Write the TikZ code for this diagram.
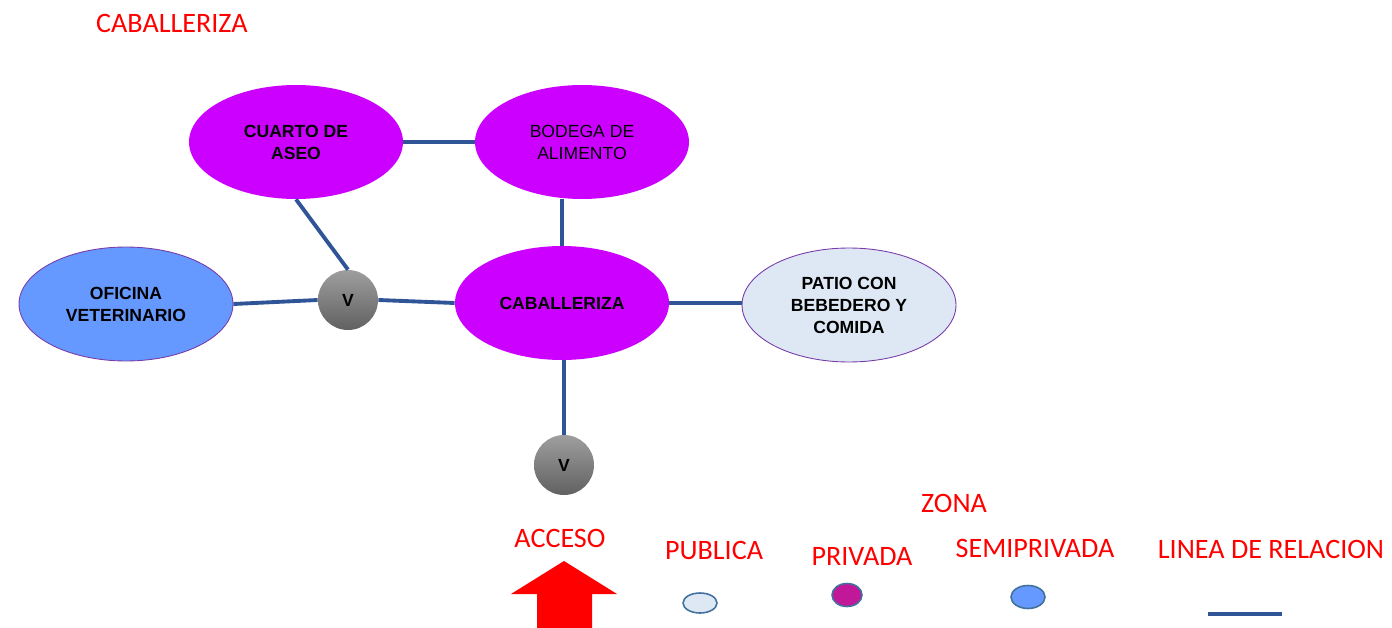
\documentclass[tikz,border=0pt]{standalone}
\usepackage{fontspec}
\setmainfont{Liberation Sans}
\newfontfamily\carlito{Carlito}
\usepackage{xcolor}
\definecolor{roompurple}{RGB}{204, 0, 255}
\definecolor{semiblue}{RGB}{102, 153, 255}
\definecolor{publight}{RGB}{222, 232, 245}
\definecolor{rimpurple}{RGB}{120, 60, 170}
\definecolor{relblue}{RGB}{47, 85, 151}
\definecolor{legendrim}{RGB}{65, 113, 156}
\definecolor{privmag}{RGB}{192, 24, 152}
\definecolor{zonered}{RGB}{255, 0, 0}
\usetikzlibrary{shapes.geometric, positioning}

\begin{document}
\begin{tikzpicture}[x=0.02cm, y=-0.02cm,
  room/.style={ellipse, minimum width=4.28cm, minimum height=2.28cm, inner sep=0pt,
    align=center, font=\fontsize{10}{12.5}\selectfont\bfseries},
  valve/.style={circle, minimum size=1.2cm, inner sep=0pt, top color=black!38,
    bottom color=black!62, font=\fontsize{10}{12}\selectfont\bfseries},
  relation/.style={draw=relblue, line width=2.2pt},
  redlabel/.style={text=zonered, font=\carlito\fontsize{16}{19}\selectfont},
  swatch/.style={ellipse, draw=legendrim, line width=0.9pt, inner sep=0pt}
]
  \useasboundingbox (0,0) rectangle (1392,628);

  % TITLE
  \node[redlabel] (title) at (172, 23) {CABALLERIZA};

  % ROOMS
  \node[room, fill=roompurple] (cuarto) at (296, 142) {CUARTO DE\\ASEO};
  \node[room, fill=roompurple, font=\fontsize{10}{12.5}\selectfont] (bodega) at (582, 142) {BODEGA DE\\ALIMENTO};
  \node[room, fill=semiblue, draw=rimpurple, line width=0.5pt] (oficina) at (126, 304) {OFICINA\\VETERINARIO};
  \node[room, fill=roompurple] (caball) at (562, 303) {CABALLERIZA};
  \node[room, fill=publight, draw=rimpurple, line width=0.5pt] (patio) at (849, 305) {PATIO CON\\BEBEDERO Y\\COMIDA};

  % VESTIBULES
  \node[valve] (v1) at (348, 300) {V};
  \node[valve] (v2) at (564, 465) {V};

  % RELATION LINES
  \draw[relation] (cuarto.east) -- (bodega.west);
  \draw[relation] (caball.north) -- (caball.north |- bodega.south);
  \draw[relation] (cuarto.south) -- (v1.north);
  \draw[relation] (oficina.east) -- (v1.west);
  \draw[relation] (v1.east) -- (caball.west);
  \draw[relation] (caball.east) -- (caball.east -| patio.west);
  \draw[relation] (v2.north) -- (v2.north |- caball.south);

  % LEGEND
  \node[redlabel] (zona) at (954, 503) {ZONA};
  \node[redlabel] (acceso) at (560, 538) {ACCESO};
  \node[redlabel] (publica) at (714, 550) {PUBLICA};
  \node[redlabel] (privada) at (862, 556) {PRIVADA};
  \node[redlabel] (semipriv) at (1035, 548) {SEMIPRIVADA};
  \node[redlabel] (linea) at (1271, 549) {LINEA DE RELACION};

  \fill[zonered] (511, 594) -- (564, 561) -- (617, 594) -- (592, 594) -- (592, 628)
    -- (537, 628) -- (537, 594) -- cycle;
  \node[swatch, fill=publight, minimum width=0.68cm, minimum height=0.4cm] (pubdot) at (700, 603) {};
  \node[swatch, fill=privmag, minimum width=0.6cm, minimum height=0.46cm] (privdot) at (847, 595) {};
  \node[swatch, fill=semiblue, minimum width=0.68cm, minimum height=0.46cm] (semidot) at (1028, 597) {};
  \coordinate (linea-a) at (1208, 614);
  \coordinate (linea-b) at (1282, 614);
  \draw[relation] (linea-a) -- (linea-b);

\end{tikzpicture}
\end{document}
